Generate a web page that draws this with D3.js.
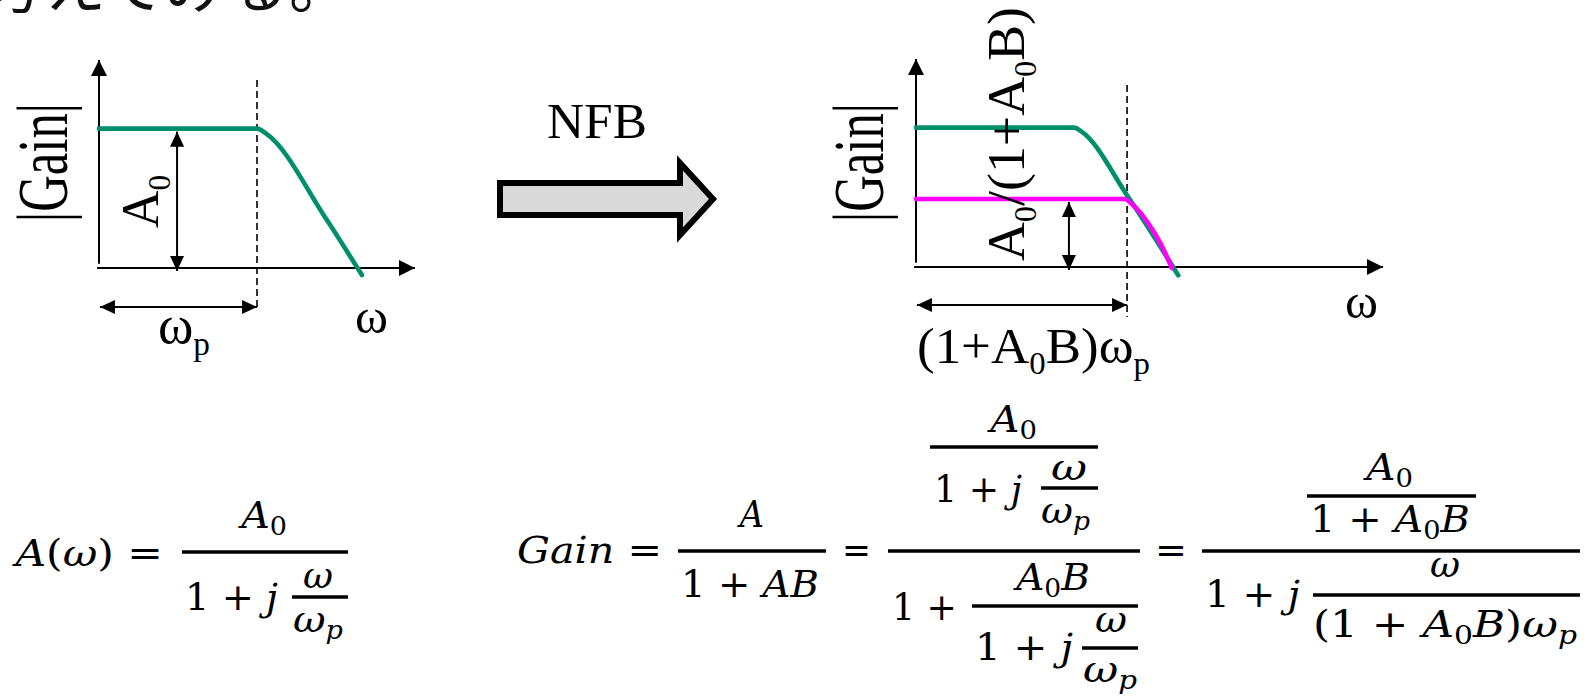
<!DOCTYPE html>
<html>
<head>
<meta charset="utf-8">
<script src="https://cdn.jsdelivr.net/npm/d3@7"></script>
<style>
  html, body { margin: 0; padding: 0; background: #fff; overflow: hidden; }
  svg { display: block; }
  text { white-space: pre; }
  .tnr { font-family: "Liberation Serif", "Times New Roman", "DejaVu Serif", serif; }
  .cm  { font-family: "DejaVu Serif", "Liberation Serif", serif; }
  .jp  { font-family: "Noto Sans CJK JP", "Noto Sans CJK SC", sans-serif; }
</style>
</head>
<body>
<svg id="fig" width="1589" height="699"></svg>
<script>
// ---- values: [omega, |gain|] in arbitrary units ----
var openLoopLeft    = [[0, 6.7], [5.0, 6.7], [5.3, 6.45], [7.15, 2.45], [8.32, -0.34]];
var openLoopRight   = [[0, 6.7], [5.0, 6.7], [5.25, 6.5], [6.7, 3.4], [8.3, -0.4]];
var closedLoopRight = [[0, 3.27], [6.6, 3.27], [6.85, 3.0], [7.35, 2.1], [7.75, 1.1], [8.1, -0.05]];
var poleOpen   = 5.0;    // omega_p
var poleClosed = 6.68;   // (1+A0B) omega_p
var gainOpen   = 6.7;    // A0
var gainClosed = 3.27;   // A0/(1+A0B)
var axisMax    = { left: [10, 10], right: [14.78, 10] };

var axisTitles = ["|Gain|", "ω"];
var poleLabels = ["ω_p", "(1+A_0B)ω_p"];
var gainLabels = ["A_0", "A_0/(1+A_0B)"];
var arrowLabel = "NFB";
var headline   = "考えてみる。";

var green = "#008f6c", magenta = "#ff00ff";

var svg = d3.select("#fig");
svg.append("rect").attr("width", 1589).attr("height", 699).attr("fill", "#fff");

var defs = svg.append("defs");
function marker(id, len, half) {
  defs.append("marker")
    .attr("id", id)
    .attr("viewBox", "0 " + (-half) + " " + len + " " + (2 * half))
    .attr("refX", len).attr("refY", 0)
    .attr("markerUnits", "userSpaceOnUse")
    .attr("markerWidth", len).attr("markerHeight", 2 * half)
    .attr("orient", "auto-start-reverse")
    .append("path")
    .attr("d", "M0," + (-half) + "L" + len + ",0L0," + half + "Z")
    .attr("fill", "#000");
}
marker("axis", 16, 8);
marker("dim", 15, 7);

// little markup: "_x" = subscript x; in math mode letters are italic
function mtext(parent, src, o) {
  var size = o.size, drop = size * (o.drop || 0.22), subScale = o.sub || 0.6;
  var t = parent.append("text")
    .attr("class", o.cls)
    .attr("font-size", size)
    .attr("fill", "#000");
  var segs = [];
  for (var i = 0; i < src.length; i++) {
    var c = src[i], sub = false;
    if (c === "_") { sub = true; c = src[++i]; }
    var it = !!o.math && /[A-Za-zω]/.test(c);
    var last = segs[segs.length - 1];
    if (last && last.sub === sub && last.it === it) last.s += c;
    else segs.push({ s: c, sub: sub, it: it });
  }
  var down = false;
  segs.forEach(function(sg) {
    var dy = 0;
    if (sg.sub && !down) dy = drop;
    else if (!sg.sub && down) dy = -drop;
    down = sg.sub;
    t.append("tspan")
      .attr("dy", dy)
      .attr("font-size", sg.sub ? size * subScale : size)
      .style("font-style", sg.it ? "italic" : "normal")
      .text(sg.s);
  });
  return t;
}

// stretch a text horizontally so it spans x1..x2 on baseline y
function fit(t, x1, x2, y) {
  var b = t.node().getBBox();
  var sx = (x2 - x1) / b.width;
  t.attr("transform", "translate(" + x1 + "," + y + ") scale(" + sx + ",1) translate(" + (-b.x) + ",0)");
}
// rotated -90: reads upward from yStart to yEnd, baseline at xBase
function fitUp(t, yStart, yEnd, xBase) {
  var b = t.node().getBBox();
  var s = (yStart - yEnd) / b.width;
  t.attr("transform", "translate(" + xBase + "," + yStart + ") rotate(-90) scale(" + s + ",1) translate(" + (-b.x) + ",0)");
}

// ---- headline (cut off at the top, as in the slide) ----
svg.append("text")
  .attr("class", "jp")
  .attr("x", -18).attr("y", 8)
  .attr("font-size", 62)
  .attr("fill", "#111")
  .text(headline);

// ---- plots ----
function plot(opts) {
  var x = d3.scaleLinear().domain([0, opts.max[0]]).range(opts.xr);
  var y = d3.scaleLinear().domain([0, opts.max[1]]).range(opts.yr);
  var g = svg.append("g");
  var line = d3.line()
    .x(function(d) { return x(d[0]); })
    .y(function(d) { return y(d[1]); })
    .curve(d3.curveMonotoneX);

  // axes with arrow heads
  g.append("line")
    .attr("x1", x(0)).attr("x2", x(0))
    .attr("y1", y(0.2)).attr("y2", y(opts.max[1]))
    .attr("stroke", "#000").attr("stroke-width", 2)
    .attr("marker-end", "url(#axis)");
  g.append("line")
    .attr("x1", x(-0.06)).attr("x2", x(opts.max[0]))
    .attr("y1", y(0)).attr("y2", y(0))
    .attr("stroke", "#000").attr("stroke-width", 2)
    .attr("marker-end", "url(#axis)");

  // dashed cut-off marker
  g.append("line")
    .attr("x1", x(opts.pole)).attr("x2", x(opts.pole))
    .attr("y1", y(opts.dash[0])).attr("y2", y(opts.dash[1]))
    .attr("stroke", "#000").attr("stroke-width", 1.6)
    .attr("stroke-dasharray", "7,4");

  opts.curves.forEach(function(c) {
    g.append("path")
      .attr("d", line(c.data))
      .attr("fill", "none")
      .attr("stroke", c.color)
      .attr("stroke-width", 4.6)
      .attr("stroke-linejoin", "round")
      .attr("stroke-linecap", "round");
  });

  // gain dimension arrow
  g.append("line")
    .attr("x1", x(opts.gainAt)).attr("x2", x(opts.gainAt))
    .attr("y1", y(opts.gain) + 3).attr("y2", y(0) + 3)
    .attr("stroke", "#000").attr("stroke-width", 2)
    .attr("marker-start", "url(#dim)").attr("marker-end", "url(#dim)");

  // bandwidth dimension arrow
  g.append("line")
    .attr("x1", x(0.03)).attr("x2", x(opts.pole))
    .attr("y1", y(opts.bwAt)).attr("y2", y(opts.bwAt))
    .attr("stroke", "#000").attr("stroke-width", 2)
    .attr("marker-start", "url(#dim)").attr("marker-end", "url(#dim)");

  // labels
  fitUp(mtext(g, axisTitles[0], { cls: "tnr", size: 71 }), 222, 103, opts.titleX);
  var gl = mtext(g, opts.gainLabel, { cls: "tnr", size: 53 });
  fitUp(gl, opts.gainLabelY[0], opts.gainLabelY[1], opts.gainLabelX);
  var om = mtext(g, axisTitles[1], { cls: "tnr", size: 48 });
  fit(om, opts.omega[0], opts.omega[1], opts.omega[2]);
  var pl = mtext(g, opts.poleLabel, { cls: "tnr", size: opts.poleSize, sub: 0.62 });
  fit(pl, opts.poleLbl[0], opts.poleLbl[1], opts.poleLbl[2]);
}

plot({
  max: axisMax.left, xr: [99, 415], yr: [268, 60],
  pole: poleOpen, dash: [9.04, -2.0],
  curves: [{ data: openLoopLeft, color: green }],
  gain: gainOpen, gainAt: 2.47, bwAt: -1.875,
  titleX: 67, gainLabel: gainLabels[0], gainLabelY: [228, 175], gainLabelX: 158,
  omega: [355, 388, 333],
  poleLabel: poleLabels[0], poleSize: 55, poleLbl: [158, 210, 343]
});

plot({
  max: axisMax.right, xr: [916, 1383], yr: [267, 59],
  pole: poleClosed, dash: [8.75, -2.4],
  curves: [{ data: openLoopRight, color: green }, { data: closedLoopRight, color: magenta }],
  gain: gainClosed, gainAt: 4.84, bwAt: -1.83,
  titleX: 883, gainLabel: gainLabels[1], gainLabelY: [261, 7], gainLabelX: 1024,
  omega: [1345, 1378, 318],
  poleLabel: poleLabels[1], poleSize: 50, poleLbl: [917, 1150, 363]
});

// ---- NFB block arrow ----
var nfbArrow = [[0, 0.278], [0.845, 0.278], [0.845, 0], [1, 0.5], [0.845, 1], [0.845, 0.722], [0, 0.722]];
var ax = d3.scaleLinear().domain([0, 1]).range([500, 713]);
var ay = d3.scaleLinear().domain([0, 1]).range([163, 235]);
svg.append("path")
  .attr("d", d3.line().x(function(d) { return ax(d[0]); }).y(function(d) { return ay(d[1]); })(nfbArrow) + "Z")
  .attr("fill", "#d9d9d9")
  .attr("stroke", "#000")
  .attr("stroke-width", 6)
  .attr("stroke-linejoin", "miter");
fit(mtext(svg, arrowLabel, { cls: "tnr", size: 50 }), 547, 647, 138);

// ---- formulas ----
var eqText = [
  ["A(ω) =", 12, 163, 566],
  ["A_0", 238, 287, 528],
  ["1 + j", 185, 278, 610],
  ["ω", 303, 333, 588],
  ["ω_p", 293, 343, 632],

  ["Gain =", 517, 662, 563],
  ["A", 737, 764, 527],
  ["1 + AB", 681, 819, 597],
  ["=", 842, 871, 563],
  ["A_0", 987, 1037, 432],
  ["1 + j", 934, 1022, 502],
  ["ω", 1051, 1087, 480],
  ["ω_p", 1041, 1090, 523],
  ["1 +", 892, 957, 620],
  ["A_0B", 1013, 1090, 590],
  ["1 + j", 975, 1073, 660],
  ["ω", 1095, 1127, 632],
  ["ω_p", 1083, 1137, 682],
  ["=", 1155, 1187, 563],
  ["A_0", 1363, 1413, 480],
  ["1 + A_0B", 1310, 1470, 532],
  ["1 + j", 1205, 1300, 607],
  ["ω", 1430, 1460, 577],
  ["(1 + A_0B)ω_p", 1313, 1577, 637]
];
var eqBars = [
  [182, 348, 552], [292, 348, 597],
  [678, 826, 551], [888, 1140, 551], [930, 1098, 447], [1041, 1098, 488],
  [972, 1138, 606], [1082, 1138, 648],
  [1202, 1580, 551], [1307, 1476, 496], [1313, 1580, 595]
];
var eq = svg.append("g");
eqBars.forEach(function(b) {
  eq.append("line")
    .attr("x1", b[0]).attr("x2", b[1]).attr("y1", b[2]).attr("y2", b[2])
    .attr("stroke", "#000").attr("stroke-width", 3.5);
});
eqText.forEach(function(e) {
  var t = mtext(eq, e[0], { cls: "cm", size: 37, math: true, sub: 0.68, drop: 0.2 });
  fit(t, e[1], e[2], e[3]);
});
</script>
</body>
</html>
